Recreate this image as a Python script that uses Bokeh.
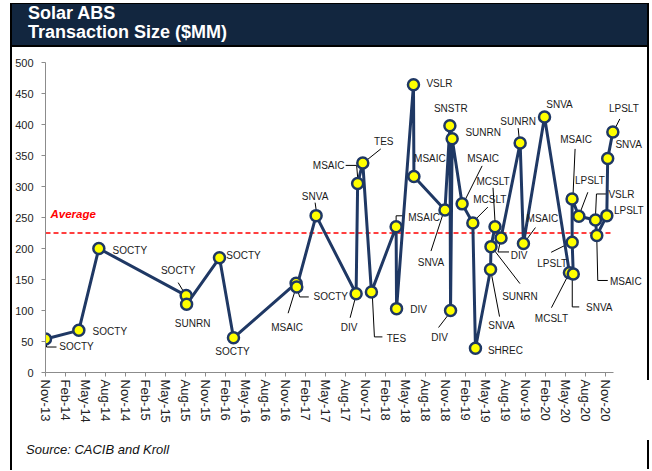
import math
from bokeh.plotting import figure
from bokeh.models import Range1d, FixedTicker, ColumnDataSource, Spacer, Div
from bokeh.layouts import column, row
from bokeh.embed import file_html
from bokeh.resources import INLINE
from bokeh.core.properties import value

# ---------------- data ----------------
dates = ["2013-11-01", "2014-04-01", "2014-07-01", "2015-08-04", "2015-08-06",
         "2016-01-04", "2016-03-07", "2016-12-19", "2016-12-22", "2017-03-19",
         "2017-09-19", "2017-09-26", "2017-10-19", "2017-11-28", "2018-03-19",
         "2018-03-21", "2018-06-07", "2018-06-09", "2018-10-29", "2018-11-21",
         "2018-11-24", "2018-12-01", "2019-01-16", "2019-03-04", "2019-03-16",
         "2019-05-24", "2019-05-26", "2019-06-14", "2019-07-11", "2019-10-07",
         "2019-10-22", "2020-01-27", "2020-05-19", "2020-06-06", "2020-06-01",
         "2020-05-31", "2020-07-01", "2020-09-16", "2020-09-22", "2020-11-07",
         "2020-11-11", "2020-12-04"]
sizes = [54, 68, 200, 124, 110,
         185, 56, 144, 138, 253,
         127, 305, 338, 130, 235,
         103, 464, 316, 262, 398,
         100, 377, 272, 241, 39,
         166, 203, 235, 217, 370,
         208, 412, 161, 159, 210,
         280, 252, 246, 221, 253,
         345, 388]
issuers = ["SOCTY", "SOCTY", "SOCTY", "SOCTY", "SUNRN",
           "SOCTY", "SOCTY", "MSAIC", "SOCTY", "SNVA",
           "DIV", "MSAIC", "TES", "TES", "MSAIC",
           "DIV", "VSLR", "MSAIC", "SNVA", "SNSTR",
           "DIV", "SUNRN", "MSAIC", "MCSLT", "SHREC",
           "SNVA", "SUNRN", "MCSLT", "DIV", "SUNRN",
           "MSAIC", "SNVA", "MCSLT", "SNVA", "LPSLT",
           "MSAIC", "LPSLT", "VSLR", "MSAIC", "LPSLT",
           "SNVA", "LPSLT"]
tick_labels = ["Nov-13", "Feb-14", "May-14", "Aug-14", "Nov-14", "Feb-15", "May-15",
               "Aug-15", "Nov-15", "Feb-16", "May-16", "Aug-16", "Nov-16", "Feb-17",
               "May-17", "Aug-17", "Nov-17", "Feb-18", "May-18", "Aug-18", "Nov-18",
               "Feb-19", "May-19", "Aug-19", "Nov-19", "Feb-20", "May-20", "Aug-20",
               "Nov-20"]
y_ticks = [0, 50, 100, 150, 200, 250, 300, 350, 400, 450, 500]
average = 225
title_lines = ["Solar ABS", "Transaction Size ($MM)"]
source_note = "Source: CACIB and Kroll"

# ---------------- label layout (screen px offsets from each point) ----------------
label_offsets = [(31, 7), (31, 1), (31, 2), (-8, -25), (6, 19),
                 (24, -2), (-1, 14), (-9, 44), (34, 10), (-1, -19),
                 (-7, 34), (-29, -18), (21, -21), (25, 47), (28, -9),
                 (22, 1), (26, -1), (16, -18), (-14, 52), (1, -17),
                 (-11, 27), (31, -6), (21, -45), (17, -24), (30, 2),
                 (11, 56), (29, 50), (-2, -45), (18, 18), (-2, -22),
                 (19, -25), (15, -13), (-18, 46), (26, 34), (-20, 21),
                 (4, -59), (11, -36), (26, -25), (29, 46), (22, -5),
                 (21, -14), (11, -23)]
leaders = {0: [(1, 5), (1, 8), (11, 8)],
           3: [(-8, -13), (-2, -3)],
           7: [(-8, 30), (0, 4)],
           8: [(0, 1), (3, 10), (12, 10)],
           9: [(-1, -13), (0, -6)],
           10: [(-6, 24), (-1, 5)],
           11: [(-12, -18), (-1, -18), (0, -6)],
           12: [(18, -14), (3, -2)],
           13: [(1, 5), (3, 45), (11, 45)],
           14: [(0, -5), (0, -11), (7, -11)],
           18: [(-14, 41), (-2, 4)],
           20: [(-12, 17), (-2, 4)],
           22: [(20, -38), (3, -4)],
           23: [(15, -16), (2, -3)],
           25: [(9, 47), (1, 5)],
           26: [(29, 37), (2, 2)],
           27: [(-2, -39), (0, -5)],
           28: [(8, 14), (-3, 14), (-1, 5)],
           29: [(-2, -15), (-1, -5)],
           30: [(12, -16), (1, -1)],
           32: [(-18, 35), (-2, 4)],
           33: [(-1, 0), (-1, 33), (6, 33)],
           34: [(-21, 10), (-1, 0)],
           35: [(3, -50), (1, -5)],
           36: [(9, -24), (1, -3)],
           37: [(12, -26), (1, -26), (0, -3)],
           38: [(0, 2), (1, 45), (11, 45)],
           41: [(7, -13), (2, -3)]}

NAVY = "#1F3864"
HEADER = "#12263F"
FONT = value("Liberation Sans")
W = 637


def month_index(d):
    y, m, day = (int(s) for s in d.split("-"))
    return (y - 2013) * 12 + (m - 11) + (day - 1) / 30.4


xs = [month_index(d) for d in dates]

# ---------------- main plot ----------------
X_END = 90
FRAME_W, FRAME_H = 600, 310
p = figure(width=W - 2, height=393, x_range=Range1d(0, X_END), y_range=Range1d(0, 500),
           output_backend="svg", toolbar_location=None, title=None,
           min_border_left=33, min_border_right=2, min_border_top=15, min_border_bottom=68,
           background_fill_color="white", border_fill_color="white", outline_line_color=None)
p.xgrid.visible = False
p.ygrid.visible = False

px_per_month = FRAME_W / X_END
px_per_unit = FRAME_H / 500.0

# leader lines
lx, ly = [], []
for i, pts in leaders.items():
    lx.append([xs[i] + dx / px_per_month for dx, dy in pts])
    ly.append([sizes[i] - dy / px_per_unit for dx, dy in pts])
p.multi_line(lx, ly, line_color="black", line_width=1)

# average line
p.line([0, xs[-1] + 0.1], [average, average], line_color="#FF0000", line_width=1.5,
       line_dash="5 3")
p.text(x=[0], y=[average], text=["Average"], x_offset=5, y_offset=-19,
       text_font=FONT, text_font_size="11.5px", text_font_style="bold italic",
       text_color="#FF0000", text_align="left", text_baseline="middle")

src = ColumnDataSource(dict(x=xs, y=sizes, name=issuers,
                            dx=[o[0] for o in label_offsets],
                            dy=[o[1] for o in label_offsets]))
p.line("x", "y", source=src, line_color=NAVY, line_width=3, line_join="round")
p.scatter("x", "y", source=src, size=11, fill_color="#FFFF00", line_color=NAVY,
          line_width=2.5)
p.text("x", "y", text="name", source=src, x_offset="dx", y_offset="dy",
       text_font=FONT, text_font_size="10px", text_color="#1A1A1A",
       text_align="center", text_baseline="middle")

# axes
p.xaxis.ticker = FixedTicker(ticks=[3 * i for i in range(len(tick_labels))])
p.xaxis.major_label_overrides = {3 * i: t for i, t in enumerate(tick_labels)}
p.xaxis.major_label_orientation = -math.pi / 2
p.xaxis.bounds = (0, xs[-1] + 0.1)
p.yaxis.ticker = FixedTicker(ticks=y_ticks)
for ax in (p.xaxis[0], p.yaxis[0]):
    ax.axis_line_color = "#8C8C8C"
    ax.axis_line_width = 1
    ax.major_tick_line_color = "#8C8C8C"
    ax.major_tick_out = 4
    ax.major_tick_in = 0
    ax.minor_tick_line_color = None
    ax.major_label_text_font = "Liberation Sans"
    ax.major_label_text_color = "#222222"
p.yaxis.major_label_text_font_size = "11px"
p.yaxis.major_label_standoff = 8
p.xaxis.major_label_text_font_size = "13px"
p.xaxis.major_label_standoff = 3

# right border of the chart area (black down to just below the axis)
right_bar = column(Spacer(width=2, height=333, margin=0, styles={"background-color": "black"}),
                   Spacer(width=2, height=60, margin=0))

# ---------------- header ----------------
h = Div(text="<br>".join(title_lines), width=W, height=44, margin=0,
        styles={"background-color": HEADER, "color": "white",
                "font-family": "'Liberation Sans', Arial, sans-serif",
                "font-weight": "bold", "font-size": "18px", "line-height": "19px",
                "padding": "0px 0px 0px 16px", "box-sizing": "border-box",
                "border-top": "1px solid black", "border-bottom": "2px solid black",
                "border-right": "2px solid black", "overflow": "hidden"})

# ---------------- footer ----------------
f = Div(text=source_note, width=W, height=29, margin=0,
        styles={"background-color": "white", "color": "#111111",
                "font-family": "'Liberation Sans', Arial, sans-serif",
                "font-style": "italic", "font-size": "13px", "line-height": "15px",
                "padding": "2px 0px 0px 14px", "box-sizing": "border-box",
                "border-right": "2px solid black", "overflow": "hidden"})

# left black border bar
b = Spacer(width=2, height=467, margin=0, styles={"background-color": "black"})

layout = column(Spacer(width=649, height=3, margin=0),
                row(Spacer(width=10, height=467, margin=0), b,
                    column(h, row(p, right_bar), f)))
open("out.html", "w").write(file_html(layout, INLINE))
